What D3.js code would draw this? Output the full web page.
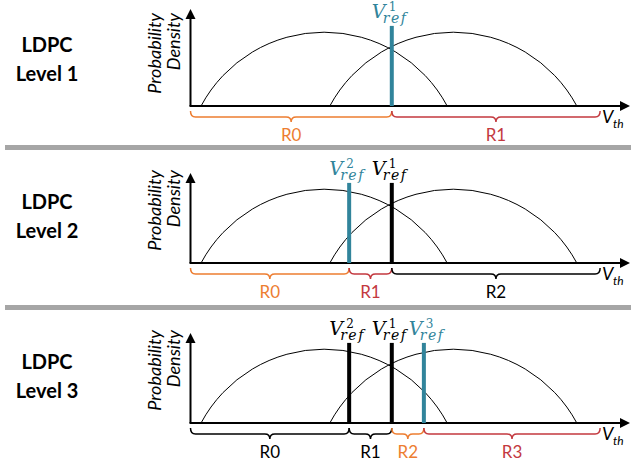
<!DOCTYPE html>
<html>
<head>
  <meta charset="utf-8">
  <script src="https://cdn.jsdelivr.net/npm/d3@7"></script>
  <style>
    body { margin: 0; background: #fff; }
    text { font-family: Lato, "Open Sans", sans-serif; }
    .math { font-family: "DejaVu Serif", serif; }
  </style>
</head>
<body>
  <div id="chart"></div>

  <script>
    // LDPC sensing levels and their reference voltages
    var levels = ["Level 1", "Level 2", "Level 3"];
    // two threshold voltage distributions (start, end, peak density)
    var distStart = [2.4, 31.7],
        distEnd   = [58.4, 87.9],
        distPeak  = [0.82, 0.82];
    // reference voltages V_ref^1, V_ref^2, V_ref^3
    var vrefNames = ["1", "2", "3"];
    var vrefPos   = [45.8, 36.1, 53.1];
    // which references are used at each level (last added one is highlighted)
    var levelRefs = [[0], [1, 0], [1, 0, 2]];
    var vrefTop = 0.89;
    var rangeEnd = 93.2;

    var width = 631, height = 461;
    var teal = "#31849b", orange = "#ed7d31", red = "#c3393f";

    // layout of the three stacked panels
    var axisY = [106, 263, 423],
        arrowTopY = [9, 173, 333],
        ylabelEnd = [13, 170, 330],
        separators = [145, 305];

    var svg = d3.select("#chart").append("svg")
        .attr("width", width)
        .attr("height", height);

    var x = d3.scaleLinear().domain([0, 100]).range([190.5, 630]);

    svg.selectAll("rect.sep").data(separators).enter().append("rect")
        .attr("class", "sep")
        .attr("x", 5).attr("y", function(d) { return d; })
        .attr("width", width - 5).attr("height", 5)
        .attr("fill", "#a6a6a6");

    function brace(x0, x1, y0) {
        var q = 5, y1 = y0 + 6, y2 = y0 + 11, m = (x0 + x1) / 2;
        return "M" + x0 + "," + y0 +
            " Q" + x0 + "," + y1 + " " + (x0 + q) + "," + y1 +
            " L" + (m - q) + "," + y1 +
            " Q" + m + "," + y1 + " " + m + "," + y2 +
            " Q" + m + "," + y1 + " " + (m + q) + "," + y1 +
            " L" + (x1 - q) + "," + y1 +
            " Q" + x1 + "," + y1 + " " + x1 + "," + y0;
    }

    levels.forEach(function(lv, i) {
        var g = svg.append("g");
        var ay = axisY[i];
        var y = d3.scaleLinear().domain([0, 1]).range([ay, ay - 90]);

        // level name on the left
        g.append("text").attr("x", 47).attr("y", ay - 54)
            .attr("text-anchor", "middle").attr("font-weight", "bold")
            .attr("font-size", 20).text("LDPC");
        g.append("text").attr("x", 47).attr("y", ay - 25)
            .attr("text-anchor", "middle").attr("font-weight", "bold")
            .attr("font-size", 20).text(lv);

        // y axis label
        var yl = g.append("g").attr("transform", "rotate(-90)");
        yl.append("text").attr("x", -ylabelEnd[i]).attr("y", 161)
            .attr("text-anchor", "end").attr("font-style", "italic")
            .attr("font-size", 18).text("Probability");
        yl.append("text").attr("x", -ylabelEnd[i]).attr("y", 180)
            .attr("text-anchor", "end").attr("font-style", "italic")
            .attr("font-size", 18).text("Density");

        // distributions as arcs
        distStart.forEach(function(s, j) {
            var x0 = x(s), x1 = x(distEnd[j]);
            var sag = ay - y(distPeak[j]);
            var half = (x1 - x0) / 2;
            var r = (half * half + sag * sag) / (2 * sag);
            g.append("path")
                .attr("d", "M" + x0 + "," + ay + " A" + r + "," + r + " 0 0 1 " + x1 + "," + ay)
                .attr("fill", "none").attr("stroke", "#000").attr("stroke-width", 1);
        });

        // axes with arrows
        g.append("line").attr("x1", x(0)).attr("x2", x(0))
            .attr("y1", ay).attr("y2", arrowTopY[i] + 8)
            .attr("stroke", "#000").attr("stroke-width", 2);
        g.append("path")
            .attr("d", "M" + x(0) + "," + arrowTopY[i] + " L" + (x(0) - 5) + "," + (arrowTopY[i] + 10) +
                " L" + (x(0) + 5) + "," + (arrowTopY[i] + 10) + "Z")
            .attr("fill", "#000");
        g.append("line").attr("x1", x(0) - 1).attr("x2", x(100) - 8)
            .attr("y1", ay).attr("y2", ay)
            .attr("stroke", "#000").attr("stroke-width", 2);
        g.append("path")
            .attr("d", "M" + x(100) + "," + ay + " L" + (x(100) - 10) + "," + (ay - 5) +
                " L" + (x(100) - 10) + "," + (ay + 5) + "Z")
            .attr("fill", "#000");

        // V_th label
        g.append("text").attr("x", 602).attr("y", ay + 17)
            .attr("font-style", "italic").attr("font-size", 18).text("V");
        g.append("text").attr("x", 613).attr("y", ay + 22)
            .attr("font-style", "italic").attr("font-size", 12).text("th");

        // reference lines, labels placed left to right so they don't collide
        var hl = i; // highlighted reference for this level
        var refs = levelRefs[i].slice().sort(function(a, b) { return vrefPos[a] - vrefPos[b]; });
        var prevEnd = -Infinity;
        refs.forEach(function(r) {
            var lx = x(vrefPos[r]);
            var col = r === hl ? teal : "#000";
            var top = y(vrefTop);
            g.append("line").attr("x1", lx).attr("x2", lx)
                .attr("y1", ay).attr("y2", top)
                .attr("stroke", col).attr("stroke-width", 4);
            var sx = Math.max(lx - 20, prevEnd + 3);
            g.append("text").attr("class", "math").attr("x", sx).attr("y", top - 8)
                .attr("font-size", 19).attr("font-style", "italic").attr("fill", col).text("V");
            g.append("text").attr("class", "math").attr("x", sx + 17).attr("y", top - 15)
                .attr("font-size", 12).attr("fill", col).text(vrefNames[r]);
            g.append("text").attr("class", "math").attr("x", sx + 11).attr("y", top - 3)
                .attr("font-size", 14).attr("font-style", "italic")
                .attr("letter-spacing", 1.5).attr("fill", col).text("ref");
            prevEnd = sx + 34;
        });

        // read regions with braces
        var bounds = [0].concat(levelRefs[i].map(function(r) { return vrefPos[r]; })
            .sort(d3.ascending)).concat([rangeEnd]);
        var p = vrefPos[hl];
        d3.pairs(bounds).forEach(function(b, k) {
            var col = b[1] === p ? orange : (b[0] === p ? red : "#000");
            g.append("path").attr("d", brace(x(b[0]), x(b[1]), ay + 5))
                .attr("fill", "none").attr("stroke", col).attr("stroke-width", 1.5);
            g.append("text").attr("x", (x(b[0]) + x(b[1])) / 2).attr("y", ay + 35)
                .attr("text-anchor", "middle").attr("font-size", 17)
                .attr("fill", col).text("R" + k);
        });
    });
  </script>
</body>
</html>
